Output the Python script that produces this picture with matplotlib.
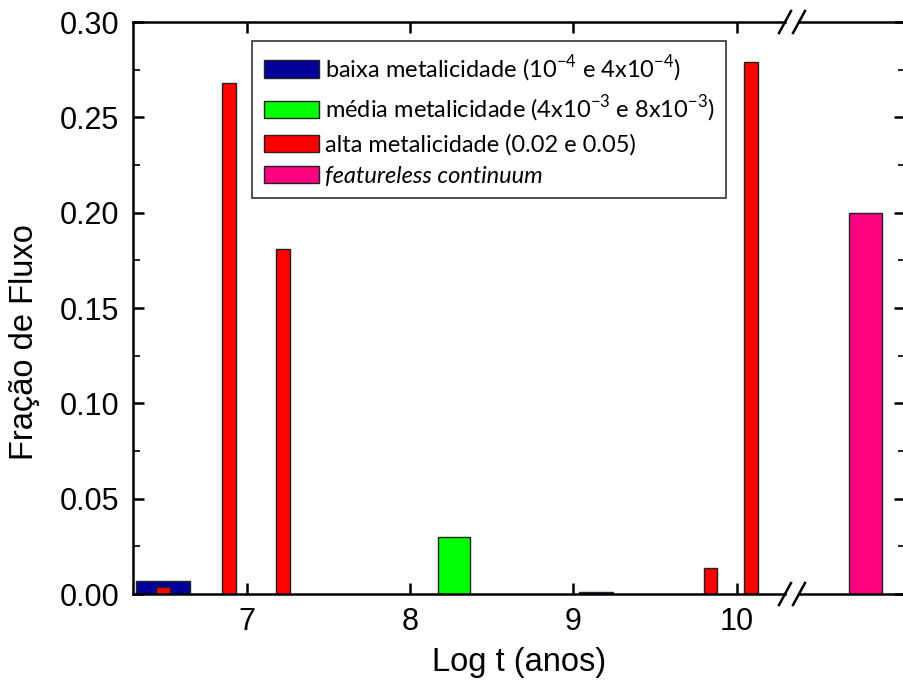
import numpy as np
import matplotlib
matplotlib.use("Agg")
import matplotlib.pyplot as plt
from matplotlib.lines import Line2D

# fração de fluxo por idade (log t) e faixa de metalicidade
baixa_logt = [6.49, 9.14]
baixa_frac = [0.0068, 0.0012]
media_logt = [8.27]
media_frac = [0.030]
alta_logt = [6.49, 6.89, 7.22, 9.84, 10.09]
alta_frac = [0.0038, 0.268, 0.181, 0.0136, 0.279]
fc_frac = [0.20]

legend_labels = [
    r"baixa metalicidade (10$^{\mathregular{-4}}$ e 4x10$^{\mathregular{-4}}$)",
    r"média metalicidade (4x10$^{\mathregular{-3}}$ e 8x10$^{\mathregular{-3}}$)",
    "alta metalicidade (0.02 e 0.05)",
    "featureless continuum",
]
xticks = [7, 8, 9, 10]

BLUE = "#000099"
GREEN = "#00ff00"
RED = "#ff0000"
PINK = "#ff0080"


def main():
    plt.rcParams["font.family"] = ["Liberation Sans", "DejaVu Sans"]
    plt.rcParams["mathtext.fontset"] = "custom"
    plt.rcParams["mathtext.rm"] = "Lato"

    W, H = 904, 686
    fig = plt.figure(figsize=(W / 100, H / 100), dpi=100)

    px = 163.3          # pixels per unit of log t
    x6 = 83.4           # pixel position of log t = 6
    y0, y1 = 594, 22    # pixel rows of 0.00 and 0.30
    left, brk_l, brk_r, right = 133, 785, 799, 905

    def fx(p):
        return p / W

    def fy(p):
        return 1 - p / H

    ax1 = fig.add_axes([fx(left), fy(y0), fx(brk_l - left), (y0 - y1) / H])
    ax2 = fig.add_axes([fx(brk_r), fy(y0), fx(right - brk_r), (y0 - y1) / H], sharey=ax1)

    ek = dict(edgecolor="#222222", linewidth=1.0)
    ax1.bar(baixa_logt, baixa_frac, width=[0.33, 0.21], color=BLUE, **ek)
    ax1.bar(media_logt, media_frac, width=0.2, color=GREEN, **ek)
    ax1.bar(alta_logt, alta_frac, width=0.085, color=RED, **ek)
    x_fc = 10.79
    ax2.bar([x_fc], fc_frac, width=0.2, color=PINK, **ek)

    ax1.set_xlim(6 + (left - x6) / px, 6 + (brk_l - x6) / px)
    ax2.set_xlim(6 + (brk_r - x6) / px, 6 + (right - x6) / px)
    ax1.set_ylim(0, 0.30)

    for ax in (ax1, ax2):
        for s in ax.spines.values():
            s.set_linewidth(1.8)
    ax1.spines["right"].set_visible(False)
    ax2.spines["left"].set_visible(False)

    ax1.set_xticks(xticks)
    ax1.set_yticks(np.arange(0, 0.301, 0.05))
    ax1.set_yticks(np.arange(0.025, 0.3, 0.05), minor=True)
    ax1.yaxis.set_major_formatter(matplotlib.ticker.FormatStrFormatter("%.2f"))
    ax1.tick_params(axis="both", which="major", direction="in", length=8, width=1.8,
                    labelsize=22, top=True, right=False)
    ax1.tick_params(axis="y", which="minor", direction="in", length=5, width=1.2, right=False)
    ax1.tick_params(axis="x", pad=9)
    ax1.tick_params(axis="y", pad=10)

    ax2.tick_params(axis="x", which="both", bottom=False, top=False, labelbottom=False)
    ax2.tick_params(axis="y", which="major", direction="in", length=8, width=1.8,
                    left=False, right=True, labelleft=False, labelright=False)
    ax2.tick_params(axis="y", which="minor", direction="in", length=5, width=1.2,
                    left=False, right=True)

    # axis break marks
    for yb in (y0, y1):
        for xc in (brk_l, brk_r):
            fig.add_artist(Line2D([fx(xc - 6), fx(xc + 6)], [fy(yb + 11), fy(yb - 11)],
                                  color="black", linewidth=1.8))

    fig.text(fx(519), fy(663), "Log t (anos)", ha="center", va="center", fontsize=23.5)
    fig.text(fx(25), fy(342), "Fração de Fluxo", ha="center", va="center",
             rotation=90, fontsize=23.5)

    handles = [plt.Rectangle((0, 0), 1, 1, facecolor=c, **ek) for c in (BLUE, GREEN, RED, PINK)]
    leg = fig.legend(handles, legend_labels, loc="upper left",
                     bbox_to_anchor=(fx(252), fy(41)), bbox_transform=fig.transFigure,
                     prop={"family": "Lato", "size": 17}, frameon=True, fancybox=False,
                     framealpha=1, edgecolor="#333333", borderaxespad=0, borderpad=0.5,
                     handlelength=2.33, handleheight=0.76, handletextpad=0.25,
                     labelspacing=0.42)
    leg.get_frame().set_linewidth(1.2)
    leg.get_texts()[3].set_style("italic")

    fig.savefig("out.png", dpi=100)


if __name__ == "__main__":
    main()
